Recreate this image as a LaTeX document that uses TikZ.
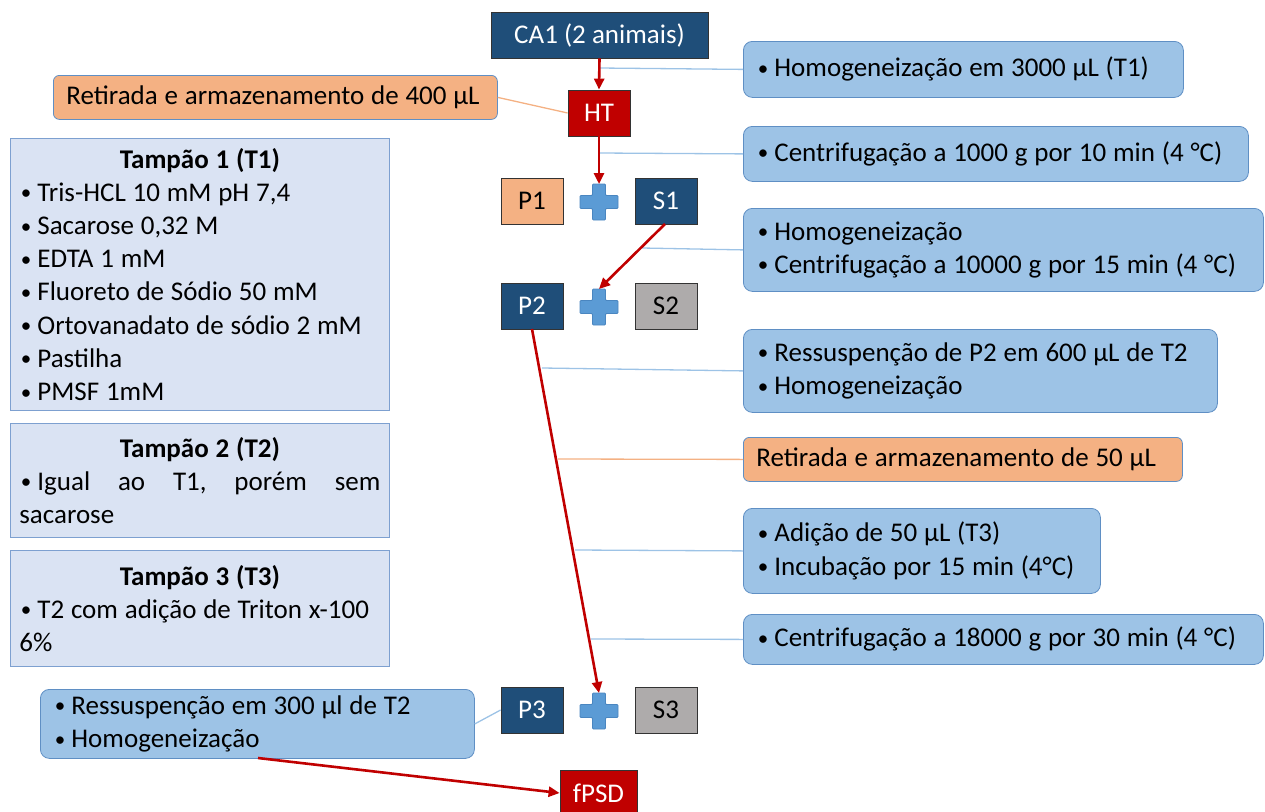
\documentclass[tikz,border=0pt]{standalone}
\usepackage{fontspec}
\setmainfont{Carlito}
\usetikzlibrary{arrows.meta,calc}
\definecolor{dblue}{HTML}{1F4E79}
\definecolor{dred}{HTML}{C00000}
\definecolor{orng}{HTML}{F4B183}
\definecolor{gryb}{HTML}{AEABAB}
\definecolor{lblue}{HTML}{9DC3E6}
\definecolor{lbord}{HTML}{5F8FC4}
\definecolor{tfill}{HTML}{DAE3F3}
\definecolor{tbord}{HTML}{7DA0D0}
\definecolor{plusf}{HTML}{5B9BD5}
\definecolor{plusb}{HTML}{4A86C0}
\definecolor{conb}{HTML}{9DC3E6}
\newcommand\bul{\makebox[18pt][l]{\hspace{1.5pt}{\fontsize{21}{21}\selectfont\raisebox{1.5pt}{•}}}}
\newcommand\lineX[1]{\mbox{\spaceskip=6.8pt plus 1pt minus 1pt\relax #1}}
\begin{document}
\begin{tikzpicture}[x=1pt,y=-1pt,
  every node/.style={font=\fontsize{27}{33.2}\selectfont},
  sq/.style={draw=black!80,line width=0.8pt,minimum width=62pt,minimum height=46pt,inner sep=0pt},
  darkbox/.style={sq,fill=dblue,text=white},
  redbox/.style={sq,fill=dred,text=white},
  orbox/.style={sq,fill=orng,text=black},
  graybox/.style={sq,fill=gryb,text=black},
  rbox/.style={draw=lbord,line width=0.8pt,fill=lblue,rounded corners=9pt,anchor=north west,inner xsep=13pt,inner ysep=0pt},
  obox/.style={rbox,fill=orng},
  tbox/.style={draw=tbord,line width=0.8pt,fill=tfill,anchor=north west,inner xsep=9pt,inner ysep=0pt,text width=361pt,minimum width=379pt},
  plusbox/.style={minimum width=42pt,minimum height=40pt,inner sep=0pt},
  flow/.style={draw=dred,line width=2.6pt,-{Triangle[length=11pt,width=10pt]},shorten >=0pt},
  conn/.style={draw=conb,line width=1.3pt},
  oconn/.style={draw=orng,line width=1.3pt},
]
\useasboundingbox (0,0) rectangle (1265,811);
\clip (0,0) rectangle (1265,811);

% central flow boxes
\node[darkbox,minimum width=217pt] (ca1) at (599.5,35) {CA1 (2 animais)};
\node[redbox] (ht) at (599,113) {HT};
\node[orbox] (p1) at (532,201) {P1};
\node[darkbox] (s1) at (666,201) {S1};
\node[darkbox] (p2) at (532,306) {P2};
\node[graybox] (s2) at (666,306) {S2};
\node[darkbox] (p3) at (532,710) {P3};
\node[graybox] (s3) at (666,710) {S3};
\node[redbox,minimum width=77pt] (fpsd) at (598.5,793) {fPSD};

% plus signs
\node[plusbox] (pl1) at (599,202) {};
\node[plusbox] (pl2) at (599,307) {};
\node[plusbox] (pl3) at (599,711) {};
\foreach \n in {pl1,pl2,pl3}{
  \begin{scope}[shift={(\n.center)}]
    \draw[fill=plusf,draw=plusb,line width=0.8pt,rounded corners=1pt]
      (-6.5,-18) -- (6.5,-18) -- (6.5,-6.5) -- (19,-6.5) -- (19,6.5) -- (6.5,6.5)
      -- (6.5,18) -- (-6.5,18) -- (-6.5,6.5) -- (-19,6.5) -- (-19,-6.5) -- (-6.5,-6.5) -- cycle;
  \end{scope}
}

% right boxes
\node[rbox,minimum width=440pt,minimum height=56pt,text width=414pt] (r1) at (743,41) {\raggedright\lineX{\bul Homogeneização em 3000 µL (T1)}};
\node[rbox,minimum width=505pt,minimum height=55pt,text width=479pt] (r2) at (743,126) {\raggedright\lineX{\bul Centrifugação a 1000 g por 10 min (4 °C)}};
\node[rbox,minimum width=520pt,minimum height=83pt,text width=494pt] (r3) at (743,208) {\raggedright\lineX{\bul Homogeneização}\\\lineX{\bul Centrifugação a 10000 g por 15 min (4 °C)}};
\node[rbox,minimum width=474pt,minimum height=83pt,text width=448pt] (r4) at (743,329) {\raggedright\lineX{\bul Ressuspenção de P2 em 600 µL de T2}\\\lineX{\bul Homogeneização}};
\node[obox,minimum width=439pt,minimum height=44pt,text width=413pt,rounded corners=6pt] (r5) at (743,437) {\raggedright\lineX{Retirada e armazenamento de 50 µL}};
\node[rbox,minimum width=357pt,minimum height=85pt,text width=331pt] (r6) at (743,508) {\raggedright\lineX{\bul Adição de 50 µL (T3)}\\\lineX{\bul Incubação por 15 min (4°C)}};
\node[rbox,minimum width=520pt,minimum height=50pt,text width=494pt] (r7) at (743,614) {\raggedright\lineX{\bul Centrifugação a 18000 g por 30 min (4 °C)}};

% left boxes
\node[obox,minimum width=444pt,minimum height=44pt,text width=418pt,rounded corners=6pt] (l0) at (53,75) {\raggedright\lineX{Retirada e armazenamento de 400 µL}};
\node[tbox,minimum height=272pt] (t1) at (10,138) {{\centering\lineX{\textbf{Tampão 1 (T1)}}\par}\raggedright
\lineX{\bul Tris-HCL 10 mM pH 7,4}\\
\lineX{\bul Sacarose 0,32 M}\\
\lineX{\bul EDTA 1 mM}\\
\lineX{\bul Fluoreto de Sódio 50 mM}\\
\lineX{\bul Ortovanadato de sódio 2 mM}\\
\lineX{\bul Pastilha}\\
\lineX{\bul PMSF 1mM}};
\node[tbox,minimum height=114pt] (t2) at (10,423) {{\centering\lineX{\textbf{Tampão 2 (T2)}}\par}\raggedright
\makebox[361pt][s]{\bul Igual\hfill ao\hfill T1,\hfill porém\hfill sem}\\
\lineX{sacarose}};
\node[tbox,minimum height=116pt] (t3) at (10,550) {{\centering\lineX{\textbf{Tampão 3 (T3)}}\par}\raggedright
\lineX{\bul T2 com adição de Triton x-100}\\
\lineX{6\%}};
\node[rbox,minimum width=434pt,minimum height=69pt,text width=408pt] (l4) at (40,689) {\raggedright\lineX{\bul Ressuspenção em 300 µl de T2}\\\lineX{\bul Homogeneização}};

% connector anchor coordinates
\coordinate (c1) at (599,68);
\coordinate (c2) at (599,153);
\coordinate (c3) at (642,248);
\coordinate (c4) at (542,368);
\coordinate (c5) at (558,459);
\coordinate (c6) at (575,550);
\coordinate (c7) at (591,639);
\coordinate (c8) at (258,758);
\coordinate (p2s) at (532,329);
\coordinate (s1s) at (665,224);

% side connectors
\draw[conn] (c1) -- (r1.west);
\draw[conn] (c2) -- (r2.west);
\draw[conn] (c3) -- (r3.west);
\draw[conn] (c4) -- (r4.west);
\draw[oconn] (c5) -- (r5.west);
\draw[conn] (c6) -- (r6.west);
\draw[conn] (c7) -- (r7.west);
\draw[oconn] (l0.east) -- (ht.west);
\draw[conn] (l4.east) -- (p3.west);

% flow arrows
\draw[flow] (ca1.south) -- (ht.north);
\draw[flow] (ht.south) -- ($(pl1.center)+(0,-18)$);
\draw[flow] (s1s) -- ($(pl2.center)+(0,-18)$);
\draw[flow] (p2s) -- ($(pl3.center)+(0,-18)$);
\draw[flow] (c8) -- (fpsd.west);
\end{tikzpicture}
\end{document}
